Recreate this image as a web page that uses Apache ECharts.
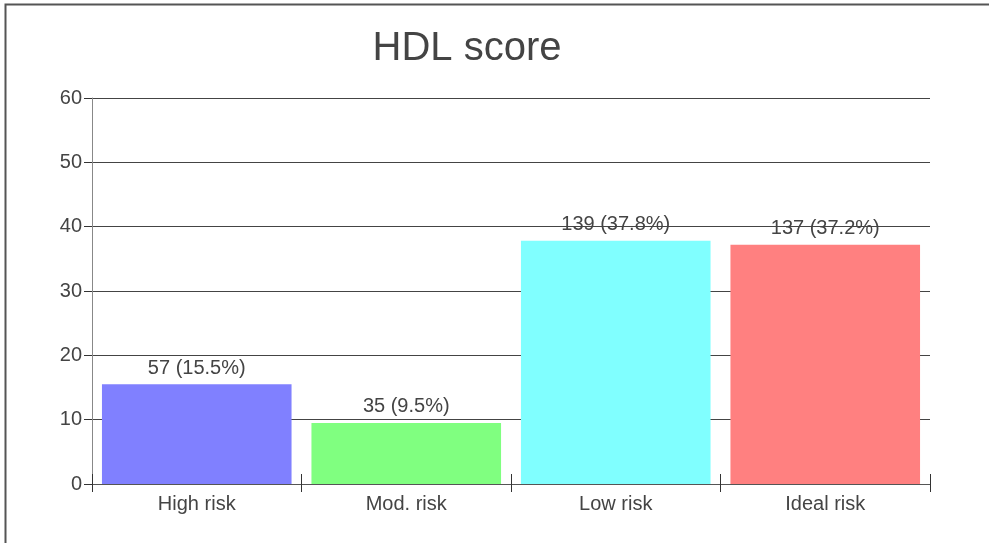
<!DOCTYPE html>
<html><head><meta charset="utf-8">
<script src="https://cdn.jsdelivr.net/npm/echarts@6/dist/echarts.min.js"></script>
<style>html,body{margin:0;padding:0;background:#fff}#c{width:989px;height:543px}</style>
</head><body><div id="c"></div>
<script>
const categories = ["High risk", "Mod. risk", "Low risk", "Ideal risk"];
const counts = [57, 35, 139, 137];
const percents = [15.5, 9.5, 37.8, 37.2];
const colors = ["#8080ff", "#80ff80", "#80ffff", "#ff8080"];
const yTicks = [0, 10, 20, 30, 40, 50, 60];

const chart = echarts.init(document.getElementById('c'), null, {renderer: 'canvas'});
const font = 'Liberation Sans, Arial, sans-serif';
chart.setOption({
  animation: false,
  title: {text: 'HDL score', left: 462, top: 24, textAlign: 'center',
    textStyle: {fontFamily: font, fontSize: 40, fontWeight: 'normal', color: '#444'}},
  graphic: [{type: 'rect', shape: {x: 5.5, y: 4.5, width: 1000, height: 560},
    style: {fill: null, stroke: '#555', lineWidth: 2}}],
  grid: {left: 92, right: 59, top: 98, bottom: 59},
  xAxis: [{
    type: 'category', data: categories,
    axisLine: {lineStyle: {color: '#555', width: 1}},
    axisTick: {show: true, length: 8, lineStyle: {color: '#333'}},
    axisLabel: {fontFamily: font, fontSize: 20, color: '#444', margin: 10}
  }, {
    type: 'category', data: categories, position: 'bottom',
    axisLine: {show: false},
    axisTick: {show: true, inside: true, length: 10, lineStyle: {color: '#333'}},
    axisLabel: {show: false}
  }],
  yAxis: {
    type: 'value', min: yTicks[0], max: yTicks[yTicks.length - 1], interval: 10,
    axisLine: {show: true, lineStyle: {color: '#888'}},
    axisTick: {show: true, length: 8, lineStyle: {color: '#333'}},
    axisLabel: {fontFamily: font, fontSize: 20, color: '#444', margin: 10},
    splitLine: {lineStyle: {color: '#444', width: 1}}
  },
  series: [{
    type: 'bar', barCategoryGap: '9.5%',
    data: percents.map((p, i) => ({value: p, itemStyle: {color: colors[i]}})),
    label: {show: true, position: 'top', distance: 6, fontFamily: font, fontSize: 20, color: '#444',
      formatter: (pr) => counts[pr.dataIndex] + ' (' + percents[pr.dataIndex].toFixed(1) + '%)'}
  }]
});
</script></body></html>
